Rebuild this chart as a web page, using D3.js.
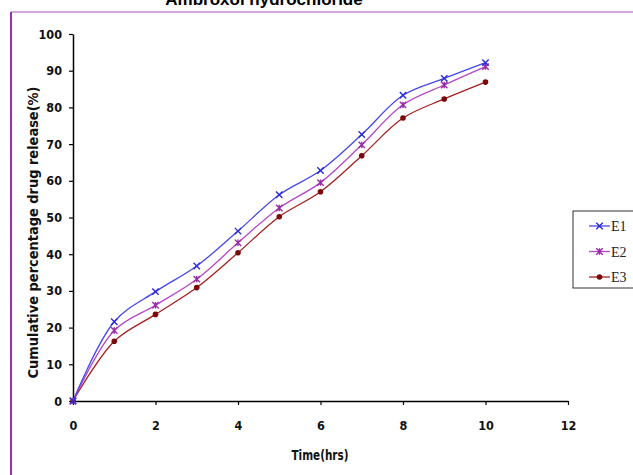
<!DOCTYPE html>
<html>
<head>
<meta charset="utf-8">
<script src="https://cdn.jsdelivr.net/npm/d3@7"></script>
<style>
  body { margin: 0; background: #fff; }
  svg { display: block; }
</style>
</head>
<body>
<div id="chart"></div>
<script>
// ── Data ─────────────────────────────────────────────────────
const hours = [0, 1, 2, 3, 4, 5, 6, 7, 8, 9, 10];
const E1 = [0, 21.6, 29.8, 36.8, 46.3, 56.2, 62.8, 72.6, 83.3, 87.9, 92.2];
const E2 = [0, 19.2, 26.1, 33.2, 43.1, 52.6, 59.5, 69.8, 80.7, 86.1, 91.1];
const E3 = [0, 16.3, 23.6, 30.9, 40.4, 50.2, 57.0, 66.8, 77.1, 82.3, 86.9];
const seriesNames = ["E1", "E2", "E3"];
const xTicks = [0, 2, 4, 6, 8, 10, 12];
const yTicks = [0, 10, 20, 30, 40, 50, 60, 70, 80, 90, 100];

const W = 633, H = 475;
const COLORS = { E1: "#4646f0", E2: "#b448c8", E3: "#a42020" };
const MARKS  = { E1: "#2a2ad8", E2: "#9a2aa8", E3: "#7a0808" };

const svg = d3.select("#chart").append("svg")
  .attr("width", W).attr("height", H);

// outer frame (purple border, only top/left visible)
svg.append("line").attr("x1", 11).attr("x2", W).attr("y1", 12).attr("y2", 12)
  .attr("stroke", "#c58ad6").attr("stroke-width", 1.5);
svg.append("line").attr("x1", 11).attr("x2", 11).attr("y1", 12).attr("y2", H)
  .attr("stroke", "#9a30b0").attr("stroke-width", 2);

const font = "'Liberation Sans Narrow', 'Arial Narrow', 'DejaVu Sans Condensed', Arial, sans-serif";

// title, mostly cut off at the top (as in the reference)
svg.append("text")
  .attr("x", 264).attr("y", 5)
  .attr("text-anchor", "middle")
  .attr("font-family", "Liberation Sans, Arial, sans-serif")
  .attr("font-weight", "bold").attr("font-size", 17)
  .text("Ambroxol hydrochloride");

// ── Scales ───────────────────────────────────────────────────
const x = d3.scaleLinear().domain([0, 12]).range([73, 568]);
const y = d3.scaleLinear().domain([0, 100]).range([401, 34]);

// x axis
const xAxis = svg.append("g")
  .attr("transform", `translate(0,${y(0)})`)
  .call(d3.axisBottom(x).tickValues(xTicks).tickSize(4).tickPadding(16).tickSizeOuter(0));
xAxis.select(".domain").attr("stroke-width", 1.5);
xAxis.selectAll(".tick line").attr("stroke-width", 1.2);
xAxis.selectAll("text").attr("font-family", font).attr("font-weight", "bold")
  .attr("font-size", 12.5).attr("fill", "#111");

// y axis
const yAxis = svg.append("g")
  .attr("transform", `translate(${x(0)},0)`)
  .call(d3.axisLeft(y).tickValues(yTicks).tickSize(4).tickPadding(7).tickSizeOuter(0));
yAxis.select(".domain").attr("stroke-width", 1.5);
yAxis.selectAll(".tick line").attr("stroke-width", 1.2);
yAxis.selectAll("text").attr("font-family", font).attr("font-weight", "bold")
  .attr("font-size", 12.5).attr("fill", "#111");

// axis titles
svg.append("text")
  .attr("x", 320).attr("y", 460)
  .attr("text-anchor", "middle")
  .attr("font-family", font).attr("font-weight", "bold").attr("font-size", 14)
  .attr("textLength", 57).attr("lengthAdjust", "spacingAndGlyphs")
  .attr("fill", "#111")
  .text("Time(hrs)");

svg.append("text")
  .attr("transform", `translate(38,${(y(0) + y(100)) / 2 + 15}) rotate(-90)`)
  .attr("text-anchor", "middle")
  .attr("font-family", font).attr("font-weight", "bold").attr("font-size", 14)
  .attr("textLength", 292).attr("lengthAdjust", "spacingAndGlyphs")
  .attr("fill", "#111")
  .text("Cumulative percentage drug release(%)");

// ── Lines + markers ──────────────────────────────────────────
const seriesData = { E1, E2, E3 };
const line = d3.line()
  .x((d, i) => x(hours[i]))
  .y(d => y(d))
  .curve(d3.curveCatmullRom.alpha(0.5));

function drawMarker(g, name, cx, cy) {
  if (name === "E3") {
    g.append("circle").attr("cx", cx).attr("cy", cy).attr("r", 2.8)
      .attr("fill", MARKS.E3);
  } else {
    const s = 3.2;
    g.append("path")
      .attr("d", `M${cx - s},${cy - s}L${cx + s},${cy + s}M${cx - s},${cy + s}L${cx + s},${cy - s}` +
        (name === "E2" ? `M${cx},${cy - s}L${cx},${cy + s}` : ""))
      .attr("stroke", MARKS[name]).attr("stroke-width", 1.4).attr("fill", "none");
  }
}

seriesNames.slice().reverse().forEach(name => {
  const vals = seriesData[name];
  svg.append("path")
    .datum(vals)
    .attr("d", line)
    .attr("fill", "none")
    .attr("stroke", COLORS[name])
    .attr("stroke-width", 1.3);
  const g = svg.append("g");
  vals.forEach((v, i) => drawMarker(g, name, x(hours[i]), y(v)));
});

// ── Legend ───────────────────────────────────────────────────
svg.append("rect")
  .attr("x", 573).attr("y", 211).attr("width", 62).attr("height", 77)
  .attr("fill", "#fff").attr("stroke", "#333").attr("stroke-width", 1);

seriesNames.forEach((name, i) => {
  const ly = 226 + i * 25.5;
  svg.append("line").attr("x1", 589).attr("x2", 610).attr("y1", ly).attr("y2", ly)
    .attr("stroke", COLORS[name]).attr("stroke-width", 1.3);
  drawMarker(svg, name, 599.5, ly);
  svg.append("text")
    .attr("x", 611).attr("y", ly + 5)
    .attr("font-family", "Liberation Serif, Times New Roman, serif")
    .attr("font-size", 14).attr("fill", "#222")
    .text(name);
});
</script>
</body>
</html>
